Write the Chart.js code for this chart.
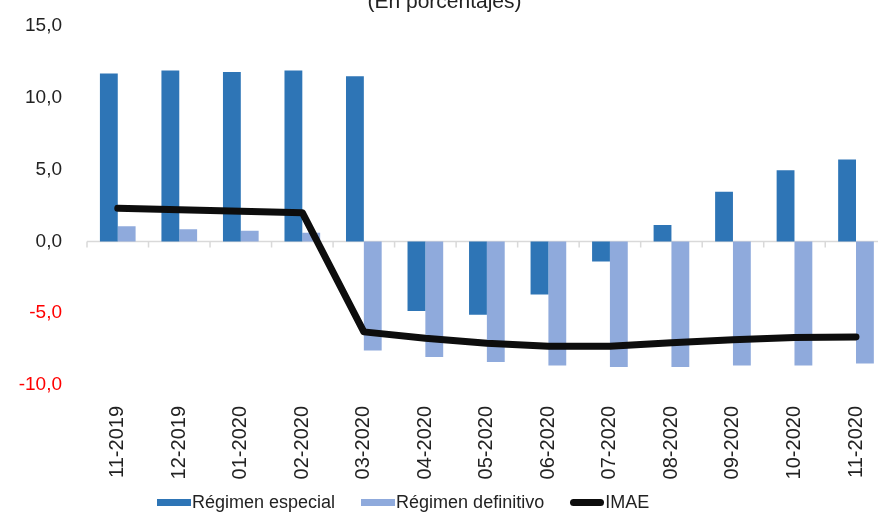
<!DOCTYPE html>
<html>
<head>
<meta charset="utf-8">
<script src="https://cdn.jsdelivr.net/npm/chart.js@4/dist/chart.umd.min.js"></script>
<style>
  html, body { margin: 0; padding: 0; background: #fff; overflow: hidden; }
  #wrap { position: relative; width: 878px; height: 514px; overflow: hidden; }
  #chart { position: absolute; left: 0; top: 0; }
  #sub { position: absolute; left: 0; width: 889px; top: -9px; text-align: center;
         font: 21px "Liberation Sans", Arial, sans-serif; line-height: 20px; color: #222; }
  #legend { position: absolute; left: 157px; top: 492px; display: flex; align-items: center;
            font: 18px "Liberation Sans", Arial, sans-serif; color: #222; white-space: nowrap; }
  #legend .item { display: flex; align-items: center; margin-right: 26px; }
  #legend .box { width: 34px; height: 7px; margin-right: 1px; }
</style>
</head>
<body>
<div id="wrap">
  <canvas id="chart" width="893" height="514"></canvas>
  <div id="sub">(En porcentajes)</div>
  <div id="legend"></div>
</div>
<script>
// data \/
const months = ['11-2019', '12-2019', '01-2020', '02-2020', '03-2020', '04-2020', '05-2020',
                '06-2020', '07-2020', '08-2020', '09-2020', '10-2020', '11-2020'];
const especial = [11.7, 11.9, 11.8, 11.9, 11.5, -4.85, -5.1, -3.7, -1.4, 1.15, 3.45, 4.95, 5.7];
const definitivo = [1.05, 0.85, 0.75, 0.6, -7.6, -8.05, -8.4, -8.65, -8.75, -8.75, -8.65, -8.65, -8.5];
const imae = [2.3, 2.2, 2.1, 2.0, -6.3, -6.75, -7.1, -7.3, -7.3, -7.05, -6.85, -6.7, -6.65];
const yTicks = [15, 10, 5, 0, -5, -10];
// data /\

const font = '"Liberation Sans", Arial, sans-serif';

// zero line with little tick marks between the months \/
const zeroAxis = {
    id: 'zeroAxis',
    beforeDatasetsDraw(chart) {
        const ctx = chart.ctx;
        const x = chart.scales.x;
        const y0 = chart.scales.y.getPixelForValue(0);
        const half = (x.getPixelForValue(1) - x.getPixelForValue(0)) / 2;
        ctx.save();
        ctx.strokeStyle = '#d9d9d9';
        ctx.lineWidth = 1.5;
        ctx.beginPath();
        ctx.moveTo(chart.chartArea.left, y0);
        ctx.lineTo(chart.chartArea.right, y0);
        for (let i = 0; i <= months.length; i++) {
            const px = x.getPixelForValue(i) - half;
            ctx.moveTo(px, y0);
            ctx.lineTo(px, y0 + 6);
        }
        ctx.stroke();
        ctx.restore();
    }
};
// zero line /\

const chart = new Chart(document.getElementById('chart'), {
    type: 'bar',
    data: {
        labels: months,
        datasets: [
            {
                label: 'Régimen especial',
                data: especial,
                backgroundColor: '#2e75b6',
                categoryPercentage: 0.58,
                barPercentage: 1,
                order: 1
            },
            {
                label: 'Régimen definitivo',
                data: definitivo,
                backgroundColor: '#8faadc',
                categoryPercentage: 0.58,
                barPercentage: 1,
                order: 1
            },
            {
                type: 'line',
                label: 'IMAE',
                data: imae,
                borderColor: '#0d0d0d',
                backgroundColor: '#0d0d0d',
                borderWidth: 7,
                pointRadius: 0,
                tension: 0,
                borderCapStyle: 'round',
                borderJoinStyle: 'round',
                order: 0
            }
        ]
    },
    options: {
        responsive: false,
        animation: false,
        layout: { padding: { top: 26, right: 0, left: 0, bottom: 0 } },
        scales: {
            x: {
                grid: { display: false },
                border: { display: false },
                ticks: {
                    autoSkip: false,
                    minRotation: 90,
                    maxRotation: 90,
                    padding: 13,
                    color: '#222',
                    font: { family: font, size: 20 }
                },
                afterFit(scale) { scale.height = 129; }
            },
            y: {
                min: -10,
                max: 15,
                afterBuildTicks(scale) { scale.ticks = yTicks.map(v => ({ value: v })); },
                // tick marks are hidden, their length only keeps the labels away from the bars
                grid: { display: false, drawTicks: true, tickLength: 25 },
                border: { display: false },
                ticks: {
                    padding: 0,
                    color: ctx => ctx.tick.value < 0 ? '#ff0000' : '#222',
                    font: { family: font, size: 19 },
                    callback: v => v.toFixed(1).replace('.', ',')
                },
                afterFit(scale) { scale.width = 87; }
            }
        },
        plugins: {
            tooltip: { enabled: false },
            legend: { display: false }
        }
    },
    plugins: [zeroAxis]
});

// legend under the chart \/
const legend = document.getElementById('legend');
chart.data.datasets.forEach(ds => {
    const item = document.createElement('div');
    item.className = 'item';
    const box = document.createElement('div');
    box.className = 'box';
    box.style.background = ds.backgroundColor;
    if (ds.type === 'line') box.style.borderRadius = '4px';
    const text = document.createElement('span');
    text.textContent = ds.label;
    item.appendChild(box);
    item.appendChild(text);
    legend.appendChild(item);
});
// legend /\
</script>
</body>
</html>
